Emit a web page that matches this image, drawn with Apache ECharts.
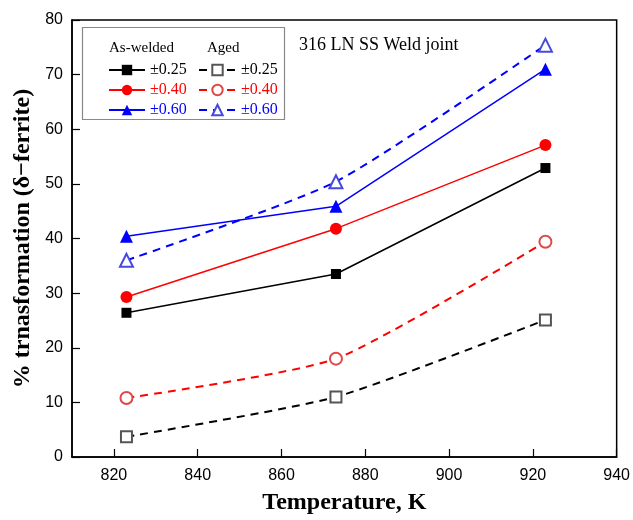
<!DOCTYPE html>
<html><head><meta charset="utf-8">
<script src="https://cdn.jsdelivr.net/npm/echarts@6/dist/echarts.min.js"></script>
<style>html,body{margin:0;padding:0;background:#fff}#c{width:633px;height:520px}</style>
</head><body><div id="c"></div>
<script>
const temps = [823, 873, 923];
const awd025 = [26.4, 33.5, 52.9];
const awd040 = [29.3, 41.8, 57.1];
const awd060 = [40.4, 45.9, 71.0];
const aged025 = [3.7, 11.0, 25.1];
const aged040 = [10.8, 18.0, 39.4];
const aged060 = [36.0, 50.4, 75.4];
const xTicks = [820, 840, 860, 880, 900, 920, 940];
const yTicks = [0, 10, 20, 30, 40, 50, 60, 70, 80];
const levels = ['±0.25', '±0.40', '±0.60'];

const pts = (v) => temps.map((t, i) => [t, v[i]]);
const serif = 'Liberation Serif';
const sans = 'Liberation Sans';

function solid(name, data, color, symbol, size) {
  return { name, type: 'line', data: pts(data), symbol, symbolSize: size,
    lineStyle: { color, width: 1.5 }, itemStyle: { color }, z: 3 };
}
function dashed(name, data, lineColor, markColor, symbol, size) {
  return { name, type: 'line', data: pts(data), symbol, symbolSize: size, smooth: 0.2,
    lineStyle: { color: lineColor, width: 2, type: [8, 6] },
    itemStyle: { color: markColor, borderColor: markColor, borderWidth: 1.2 }, z: 2 };
}

const names = {
  aw: levels.map(l => 'As-welded ' + l),
  ag: levels.map(l => 'Aged ' + l)
};
const textColors = ['#000', '#ff0000', '#0000ff'];

const chart = echarts.init(document.getElementById('c'), null, { renderer: 'canvas' });
chart.setOption({
  animation: false,
  grid: { left: 72, top: 20, right: 14, bottom: 58, show: true, borderColor: '#000', borderWidth: 1.5 },
  xAxis: {
    type: 'value', min: 810, max: 940, interval: 20,
    name: 'Temperature, K', nameLocation: 'middle', nameGap: 34,
    nameTextStyle: { fontFamily: serif, fontWeight: 'bold', fontSize: 24, color: '#000' },
    axisLine: { lineStyle: { color: '#000', width: 1.5 } },
    axisTick: { inside: true, length: 8, lineStyle: { color: '#000', width: 1.2 }, customValues: xTicks },
    axisLabel: { fontFamily: sans, fontSize: 16, color: '#000', margin: 11, customValues: xTicks },
    splitLine: { show: false }
  },
  yAxis: {
    type: 'value', min: 0, max: 80, interval: 10,
    name: '% trnasformation (δ−ferrite)', nameLocation: 'middle', nameGap: 37,
    nameTextStyle: { fontFamily: serif, fontWeight: 'bold', fontSize: 24, color: '#000' },
    axisLine: { lineStyle: { color: '#000', width: 1.5 } },
    axisTick: { inside: true, length: 8, lineStyle: { color: '#000', width: 1.2 } },
    axisLabel: { fontFamily: sans, fontSize: 16, color: '#000', margin: 9 },
    splitLine: { show: false }
  },
  legend: [
    { data: names.aw.map((n, i) => ({ name: n, textStyle: { color: textColors[i] } })),
      orient: 'vertical', left: 103, top: 57, itemWidth: 36, itemHeight: 13, itemGap: 4,
      selectedMode: false, formatter: n => n.split(' ')[1],
      textStyle: { fontFamily: serif, fontSize: 16, lineHeight: 15 } },
    { data: names.ag.map((n, i) => ({ name: n, textStyle: { color: textColors[i] } })),
      orient: 'vertical', left: 193, top: 57, itemWidth: 37, itemHeight: 13, itemGap: 4,
      selectedMode: false, formatter: n => n.split(' ')[1],
      textStyle: { fontFamily: serif, fontSize: 16, lineHeight: 15 } }
  ],
  graphic: [
    { type: 'rect', left: 80, top: 25, shape: { width: 202, height: 92 },
      style: { fill: 'none', stroke: '#888', lineWidth: 1.2 }, z: 1 },
    { type: 'text', left: 109, top: 41, style: { text: 'As-welded', font: '15px "Liberation Serif"', fill: '#000' } },
    { type: 'text', left: 207, top: 41, style: { text: 'Aged', font: '15px "Liberation Serif"', fill: '#000' } },
    { type: 'text', left: 299, top: 36, style: { text: '316 LN SS Weld joint', font: '18px "Liberation Serif"', fill: '#000' } }
  ],
  series: [
    solid(names.aw[0], awd025, '#000000', 'rect', 10),
    solid(names.aw[1], awd040, '#ff0000', 'circle', 12),
    solid(names.aw[2], awd060, '#0000ff', 'triangle', 13),
    dashed(names.ag[0], aged025, '#000000', '#555555', 'emptyRect', 11),
    dashed(names.ag[1], aged040, '#ff0000', '#e04848', 'emptyCircle', 12),
    dashed(names.ag[2], aged060, '#0000ff', '#4848e0', 'emptyTriangle', 13)
  ]
});
</script></body></html>
